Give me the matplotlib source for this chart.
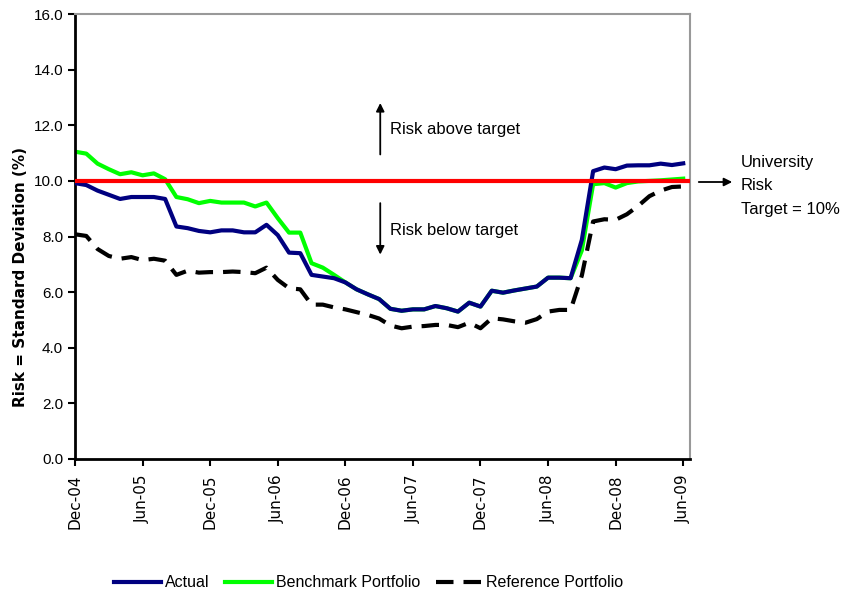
import numpy as np
import matplotlib as mpl
import matplotlib.pyplot as plt

mpl.rcParams["font.family"] = ["Liberation Sans", "DejaVu Sans"]

# -------------------- Data (monthly, Dec-04 .. Jun-09) --------------------
TICK_LABELS = ["Dec-04", "Jun-05", "Dec-05", "Jun-06", "Dec-06",
               "Jun-07", "Dec-07", "Jun-08", "Dec-08", "Jun-09"]

actual = [
    9.92, 9.85, 9.65, 9.50, 9.35, 9.42, 9.42, 9.42, 9.35, 8.36,
    8.30, 8.20, 8.15, 8.22, 8.22, 8.15, 8.15, 8.42, 8.05, 7.42,
    7.40, 6.62, 6.56, 6.50, 6.35, 6.10, 5.92, 5.75, 5.40, 5.33,
    5.38, 5.38, 5.50, 5.42, 5.30, 5.62, 5.48, 6.05, 5.98, 6.06,
    6.13, 6.20, 6.52, 6.52, 6.50, 7.88, 10.35, 10.48, 10.42, 10.55,
    10.56, 10.56, 10.62, 10.57, 10.63,
]

benchmark = [
    11.05, 10.98, 10.62, 10.42, 10.24, 10.31, 10.20, 10.27, 10.06, 9.42,
    9.34, 9.20, 9.28, 9.22, 9.22, 9.22, 9.08, 9.22, 8.66, 8.14,
    8.14, 7.04, 6.88, 6.62, 6.35, 6.10, 5.92, 5.75, 5.40, 5.33,
    5.38, 5.38, 5.50, 5.42, 5.30, 5.62, 5.48, 6.05, 5.98, 6.06,
    6.13, 6.20, 6.52, 6.52, 6.50, 7.50, 9.88, 9.92, 9.76, 9.92,
    9.98, 10.00, 10.02, 10.05, 10.08,
]

reference = [
    8.08, 8.02, 7.55, 7.30, 7.20, 7.26, 7.15, 7.20, 7.13, 6.62,
    6.77, 6.70, 6.72, 6.72, 6.74, 6.72, 6.68, 6.88, 6.44, 6.14,
    6.10, 5.55, 5.55, 5.45, 5.38, 5.28, 5.18, 5.05, 4.80, 4.70,
    4.76, 4.78, 4.82, 4.82, 4.74, 4.90, 4.70, 5.06, 5.02, 4.95,
    4.90, 5.03, 5.30, 5.36, 5.36, 6.60, 8.54, 8.62, 8.60, 8.80,
    9.10, 9.45, 9.65, 9.78, 9.80,
]

TARGET = 10.0

months = np.arange(len(actual))

# -------------------- Plot --------------------
fig = plt.figure(figsize=(8.44, 5.97), dpi=100)
ax = fig.add_axes([0.0889, 0.2312, 0.7286, 0.7453])

ax.plot(months, benchmark, color="#00ff00", lw=3.0, label="Benchmark Portfolio", zorder=2)
ax.plot(months, actual, color="#000080", lw=3.0, label="Actual", zorder=3)
ax.plot(months, reference, color="black", lw=3.0, dashes=(4.2, 2.4),
        label="Reference Portfolio", zorder=4)
ax.axhline(TARGET, color="#ff0000", lw=3.0, zorder=5)

ax.set_xlim(0, 54.6)
ax.set_ylim(0, 16)
ax.set_yticks(np.arange(0, 16.1, 2.0))
ax.set_yticklabels([f"{v:.1f}" for v in np.arange(0, 16.1, 2.0)], fontsize=11)
ax.set_xticks(np.arange(0, 55, 6))
ax.set_xticklabels(TICK_LABELS, rotation=90, fontsize=11, family="DejaVu Sans")
ax.tick_params(axis="both", direction="out", length=5, width=1.5, color="black")
ax.tick_params(axis="x", pad=6)

for s in ["left", "bottom"]:
    ax.spines[s].set_color("black")
    ax.spines[s].set_linewidth(2)
for s in ["top", "right"]:
    ax.spines[s].set_color("#999999")
    ax.spines[s].set_linewidth(1.5)

ax.set_ylabel("Risk = Standard Deviation (%)", fontsize=11, fontweight="bold",
              family="DejaVu Sans")
ax.yaxis.set_label_coords(-0.077, 0.41)

# Annotations around the target line
ax.annotate("", xy=(27.1, 12.9), xytext=(27.1, 10.85),
            arrowprops=dict(arrowstyle="-|>", color="black", lw=1.3, mutation_scale=12))
ax.text(28.0, 11.85, "Risk above target", fontsize=12, va="center", ha="left")
ax.annotate("", xy=(27.1, 7.25), xytext=(27.1, 9.3),
            arrowprops=dict(arrowstyle="-|>", color="black", lw=1.3, mutation_scale=12))
ax.text(28.0, 8.2, "Risk below target", fontsize=12, va="center", ha="left")

ax.annotate("", xy=(735 / 844, (597 - 182) / 597), xytext=(696 / 844, (597 - 182) / 597),
            xycoords="figure fraction", textcoords="figure fraction",
            arrowprops=dict(arrowstyle="-|>", color="black", lw=1.3, mutation_scale=12))
fig.text(741 / 844, (597 - 186) / 597, "University\nRisk\nTarget = 10%",
         fontsize=12, va="center", ha="left", linespacing=1.7)

handles, labels = ax.get_legend_handles_labels()
order = [1, 0, 2]
fig.legend([handles[i] for i in order], [labels[i] for i in order],
           loc="center", bbox_to_anchor=(0.437, 0.024), ncol=3, frameon=False,
           fontsize=11.5, handlelength=2.9, handletextpad=0.25, columnspacing=1.0)

fig.savefig("out.png", dpi=100)
